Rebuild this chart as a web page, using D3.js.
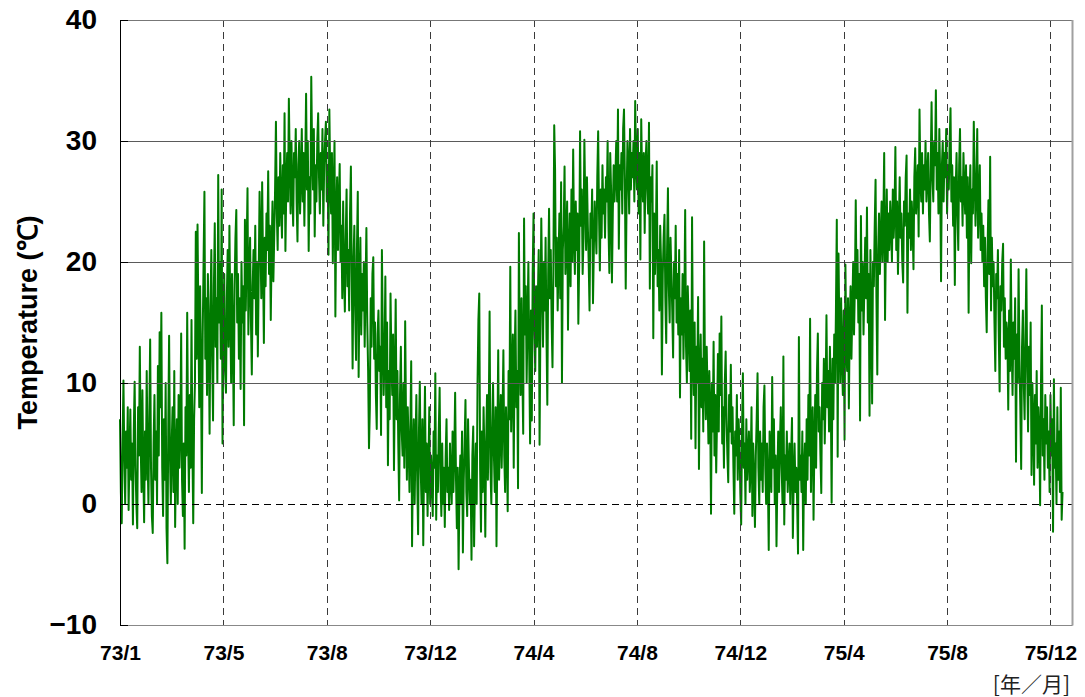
<!DOCTYPE html>
<html>
<head>
<meta charset="utf-8">
<script src="https://cdn.jsdelivr.net/npm/d3@7"></script>
<style>
  html, body { margin: 0; padding: 0; background: #fff; }
  svg { display: block; }
</style>
</head>
<body>
<svg id="chart" width="1085" height="697"></svg>
<script>
// Daily temperature (°C), one value per day, Jan 1973 – Dec 1975
const temps1973 = [
  7, 1, -1.6, 5, 10.2, 4, 0, 6, 3, 8, -0.5, 4, 7.8, 2, 5,
  -1.7, 6, 10.1, 3, 0, -2, 8, 4, 13, 5, 1, 9.4, 3, -1.5, 6,
  2, 11, 4, 0, 7, 13.6, 3, -1, -2.4, 5, 9, 2, 6, 0, 11.4,
  4, 14.2, 8, 15.8, 3, -1, 7, 2, 10, -2, -4.9, 6, 13.9, 4, 0,
  5, 8, 1, 11, -1.9, 4, 7, 0, 9, 3, 6, 14.1, 2, -1, 5,
  -3.7, 8, 4, 15.8, 6, 1, 9, 3, 15.2, 5, -1.6, 7, 10, 22.5, 12,
  23.1, 15, 8, 18, 11, 0.9, 14, 20, 25.8, 12, 17, 9, 19, 14, 5.8,
  16, 21, 12, 6.9, 18, 23.2, 13, 17, 10, 27.2, 15, 20, 12, 26, 5,
  14, 19, 11, 9.2, 17, 21, 13, 23, 16, 10, 19, 14, 6.5, 18, 22,
  24.3, 15, 19, 12, 17, 9.5, 20, 15, 18, 6.5, 23.5, 16, 21, 26.1, 14,
  19, 22, 15, 10.7, 18, 21, 17, 23, 14, 20, 12.2, 19, 25.8, 22, 17,
  26.6, 20, 13.3, 22, 18, 24, 21, 27.5, 19, 23, 15.2, 21, 25, 18.4, 22,
  26, 31.6, 24, 21, 27, 23, 29, 25, 22, 28, 24, 32.3, 20.9, 26, 29,
  25, 33.5, 28, 24, 30, 26, 23, 29, 27, 31, 25, 21.7, 28, 30, 24,
  27, 31, 25, 29, 23, 28, 33.9, 26, 30, 20.9, 27, 24, 35.3, 29, 26,
  31, 22.1, 28, 25, 30, 32.3, 27, 24, 29, 26, 31, 23, 28, 30, 31.6,
  25, 28, 20.6, 32.6, 27, 24, 29, 19.9, 26, 30, 15.5, 24, 27, 21, 25,
  28.1, 20, 23, 17, 25, 19, 15.9, 22, 26, 18, 21, 16, 24, 27.9, 19,
  11.2, 20, 23, 16, 11.9, 21, 25.8, 10.5, 18, 22, 14, 19, 16, 20, 13,
  18, 22.8, 15, 11, 4.6, 8, 17, 13, 19, 20.4, 12, 15, 9, 6.2, 14,
  16, 11, 13, 5.7, 21, 14, 9, 12, 18.8, 8, 15, 3.2, 11, 7, 17.4,
  12, 9, 14, 2.8, 10, 16.9, 7, 11, 5, 0.3, 9, 13, 6, 4, 10,
  3, 15.1, 7, 2, 8, 5, 1, 6, 11.8, -3.5, 4, 7, 0, 5, 9,
  2, -2.5, 6, 10.1, 3, 0, 7, -3.4, 4, 9.7, 1, 5, -1, 3, 8,
  0, 4, 2, -1, 6
];
const temps1974 = [
  3, 10.8, -1.3, 4, 1, 6, 9.6, 2, -1, 5, 0, 3, -1.9, 4, 7,
  1, 3, -0.5, 5, 2, 0, 6, 1, 4, 9.2, 2, -2, 3, -5.4, 1,
  4, 0, 6, -4, 2, 5, 8.6, 1, -1, 7, 3, 0, 2, -4.6, 4,
  6.4, -3.5, 2, 5, 0, 10, 15.2, 17.4, 3, -2.3, 6, 1, 8, 4, -2.7,
  5, 9, 2, 7, 15.9, 3, 0, 6, 10, 4, 1, 8, -3.5, 5, 12.7,
  2, 6, 9, 3, 7, 12.7, 4, 1, 8, 5, -0.6, 11, 7, 19.6, 6,
  10, 14, 3, 12, 16, 8, 11, 1.3, 22.4, 13, 9, 17, 11, 5.8, 23.6,
  14, 18, 10, 15, 20, 12, 5, 16, 6.9, 19, 24, 14, 11, 18, 13,
  17, 21, 4.9, 15, 23.6, 18, 13, 20, 16, 22, 14, 8.2, 19, 24.4, 17,
  21, 15, 11.3, 19, 31.3, 27.6, 18, 22, 16, 20, 24, 17, 26.6, 10, 21,
  23, 27.9, 19, 22, 25, 14.4, 21, 24, 18, 26, 20, 29.3, 22, 19, 25,
  21, 24, 14.9, 20, 30.8, 23, 26, 19, 22, 30.1, 25, 21, 27, 23, 20,
  16, 24, 22, 26, 16.6, 21, 25, 23, 20.7, 27, 30.8, 24, 19.3, 26, 22,
  28, 24, 26, 22, 27, 25, 30, 23, 19.1, 29, 26, 18.3, 24, 28, 25,
  27, 30, 25, 32.6, 21.1, 28, 26, 29, 24, 31, 32.6, 27, 17.8, 25, 30,
  28, 24, 31, 26, 29, 27, 30, 25, 33.3, 28, 26, 31, 24, 29, 20.2,
  31.8, 27, 25, 29, 22.4, 28, 30, 26, 24, 31.5, 17.8, 27, 25, 28, 13.7,
  24, 19, 22, 28.3, 18, 21, 16, 23, 20, 10.7, 19, 22, 23.9, 17, 13.3,
  21, 26.1, 18, 15, 22, 19, 16, 12.1, 20, 17, 23, 15, 19, 14, 21,
  8.8, 17, 14, 19, 12, 16, 24.3, 13, 10, 18, 15, 11, 16, 5.4, 23.7,
  12, 9, 15, 4.6, 13, 10, 17.1, 2.9, 11, 14, 8, 12, 6, 21.7, 10,
  7, 13, 9, 5, 11, 8, -0.8, 10, 6, 13.4, 4, 9, 2.6, 7, 12.4,
  6, 14.1, 9, 15.5, 5, 8, 3, 10, 12.6, 7, 4, 1.8, 9, 6, 11.5,
  5, 8, 3, -0.8, 6, 4, 9, 2, 7, 5, 1, -1.7, 6, 10.8, 3,
  5, 0, 7, 2, 4
];
const temps1975 = [
  6, 1, 3, 8, -1, 5, 2, -1.9, 4, 7, 10.8, 3, 0, 6, 2,
  5, 1, 8, 9.8, 3, 0, 5, 2, -3.8, 6, 4, 1, 10.5, 3, 7,
  0, 4, -3.5, 2, 6, 1, 5, 8, 3, 0, 12.2, -1.7, 4, 2, 6,
  1, 3, 5, 0, 4, 7.1, -2.8, 2, 5, 1, 3, 0, -4.1, 13.8, 2,
  4, 1, 6, -3.8, 3, 5, 0, 7, 2, 9, 4, 15.3, 1, 6, 8,
  -1.3, 5, 9, 3, 11, 14.1, 6, 8, 4, 0.9, 10, 7, 12, 5, 9,
  15.6, 8, 11, 6, 13, 9, 0.1, 12, 7, 14, 10, 16, 23.5, 3.9, 20.7,
  14, 10, 17, 12, 9, 16, 5.3, 19.8, 13, 11, 17, 7.9, 15, 18, 12,
  16, 20, 14, 18, 25.1, 17, 21, 15, 19, 6.9, 23.8, 16, 20, 14, 18,
  22, 17, 24.5, 15, 19, 7.3, 21, 16, 8.3, 20, 18, 23, 26.8, 17, 10.7,
  21, 24, 19, 22, 25, 20, 23, 29, 15.2, 22, 26, 20, 24, 21, 25,
  23, 20, 26, 22, 24, 29.5, 21, 25, 19, 23, 27, 22, 24, 20, 18.3,
  25, 23, 27, 28.8, 15.8, 24, 22, 26, 21, 25, 23, 19.4, 27, 29.4, 24,
  26, 28, 22.1, 32.6, 27, 25, 29, 24, 28, 26, 30, 25, 27, 29, 24,
  21.7, 28, 33.2, 27, 25, 30, 28, 34.2, 26, 29, 24, 31, 27, 18.4, 28,
  30, 25, 29, 27, 31, 24, 28, 26, 30, 32.7, 25, 28, 23, 27, 18.1,
  26, 29, 24, 21, 28, 31, 25, 27, 23, 29, 26, 24, 28, 22, 27,
  15.8, 25, 28, 19.9, 26, 24, 31.6, 27, 23, 26, 31, 22, 25, 28, 21,
  24, 20, 23, 18, 22, 17, 14.2, 21, 25.1, 19, 28.7, 16, 22, 18, 20,
  15, 11, 19, 17, 21, 14, 9.3, 18, 16, 20, 21.5, 13, 17, 12, 15,
  14, 7.8, 16, 11, 20.2, 13, 9, 15, 12, 17, 3.5, 14, 10, 19.4, 12,
  8, 2.9, 13, 16, 10, 7, 14, 19.4, 11, 6, 13, 9, 15, 2.4, 10,
  7, 1.6, 9, 5, 11, 3, 8, 6, -0.1, 10, 16.4, 4, 7, 2, 9,
  5, 8, 3, 6, 1, 9, 4, 7, -2.3, 10.3, 3, 5, 0, 8, 2,
  6, 1, 9.6, -1.3, 1
];

// Axis ticks: one every 120 days, labelled year/month
const tickDays = [0, 120, 240, 360, 480, 600, 720, 840, 960, 1080];
const tickLabels = ["73/1", "73/5", "73/8", "73/12", "74/4", "74/8", "74/12", "75/4", "75/8", "75/12"];
const yTicks = [-10, 0, 10, 20, 30, 40];
const solidGrid = [10, 20, 30];
const dashedGrid = [0];

const series = temps1973.concat(temps1974, temps1975).map((t, i) => ({ day: i, t }));

const svg = d3.select("#chart");
const L = 120, R = 1072, T = 20, B = 625;
const x = d3.scaleLinear().domain([0, 1105]).range([L, R]);
const y = d3.scaleLinear().domain([-10, 40]).range([B, T]);
const crisp = v => Math.round(v) + 0.5;
const FONT = "'Liberation Sans', Arial, Helvetica, sans-serif";

// temperature trace
svg.append("path")
  .datum(series)
  .attr("fill", "none")
  .attr("stroke", "#007a00")
  .attr("stroke-width", 2)
  .attr("stroke-linejoin", "round")
  .attr("d", d3.line().x(d => x(d.day)).y(d => y(d.t)));

// horizontal grid
svg.append("g").selectAll("line").data(solidGrid).join("line")
  .attr("x1", L).attr("x2", R)
  .attr("y1", d => crisp(y(d))).attr("y2", d => crisp(y(d)))
  .attr("stroke", "#5a5a5a").attr("stroke-width", 1);

svg.append("g").selectAll("line").data(dashedGrid).join("line")
  .attr("x1", L).attr("x2", R)
  .attr("y1", d => crisp(y(d))).attr("y2", d => crisp(y(d)))
  .attr("stroke", "#000").attr("stroke-width", 1)
  .attr("stroke-dasharray", "7,5");

// vertical dashed lines at each date tick
svg.append("g").selectAll("line").data(tickDays.slice(1)).join("line")
  .attr("x1", d => crisp(x(d))).attr("x2", d => crisp(x(d)))
  .attr("y1", T).attr("y2", B)
  .attr("stroke", "#3a3a3a").attr("stroke-width", 1)
  .attr("stroke-dasharray", "7,5");

// frame
svg.append("line").attr("x1", L).attr("x2", R).attr("y1", T + 0.5).attr("y2", T + 0.5)
  .attr("stroke", "#777");
svg.append("line").attr("x1", R + 0.5).attr("x2", R + 0.5).attr("y1", T).attr("y2", B + 0.5)
  .attr("stroke", "#a0a0a0").attr("stroke-width", 2);

// x axis
const xAxis = d3.axisBottom(x)
  .tickValues(tickDays)
  .tickFormat((d, i) => tickLabels[i])
  .tickSize(0)
  .tickPadding(20);
const gx = svg.append("g").attr("transform", `translate(0,${B})`).call(xAxis);
gx.select(".domain").attr("stroke", "#888");
gx.selectAll("text")
  .attr("font-family", FONT).attr("font-size", 21).attr("font-weight", "bold").attr("fill", "#000");

// y axis
const yAxis = d3.axisLeft(y)
  .tickValues(yTicks)
  .tickSizeInner(-8)
  .tickSizeOuter(0)
  .tickPadding(23);
const gy = svg.append("g").attr("transform", `translate(${L},0)`).call(yAxis);
gy.select(".domain").attr("stroke", "#000");
gy.selectAll(".tick line").attr("stroke", "#000");
gy.selectAll("text")
  .attr("font-family", FONT).attr("font-size", 28).attr("font-weight", "bold").attr("fill", "#000");

// axis titles
svg.append("text")
  .attr("transform", `translate(37,${(T + B) / 2}) rotate(-90)`)
  .attr("text-anchor", "middle")
  .attr("font-family", FONT).attr("font-size", 27).attr("font-weight", "bold").attr("fill", "#000")
  .text("Temperature (℃)");

svg.append("text")
  .attr("x", 1070).attr("y", 692)
  .attr("text-anchor", "end")
  .attr("font-family", "'Noto Sans CJK JP', sans-serif").attr("font-size", 21).attr("fill", "#222")
  .text("[年／月]");
</script>
</body>
</html>
